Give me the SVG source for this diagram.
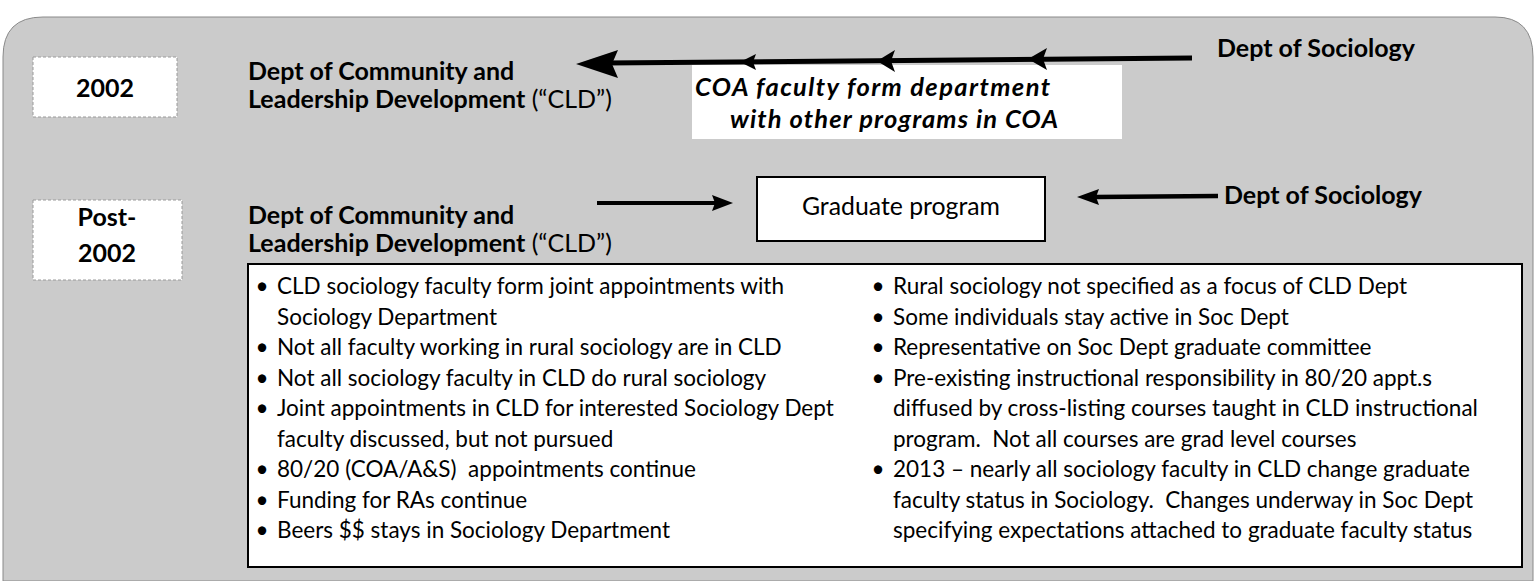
<svg xmlns="http://www.w3.org/2000/svg" width="1535" height="581" viewBox="0 0 1535 581">
<defs>
<style>
.hd{font-family:Lato,"Liberation Sans",sans-serif;font-weight:700;font-size:25px;fill:#000}
.rg{font-family:Lato,"Liberation Sans",sans-serif;font-weight:400;fill:#000}
.it{font-family:Lato,"Liberation Sans",sans-serif;font-weight:700;font-style:italic;font-size:25.5px;fill:#000}
.bl{font-family:Lato,"Liberation Sans",sans-serif;font-weight:400;font-size:22.5px;fill:#000;white-space:pre}
.wbox{fill:#fff;stroke:#9a9a9a;stroke-width:1;stroke-dasharray:3 2}
.kbox{fill:#fff;stroke:#000;stroke-width:2}
.ln{stroke:#000;fill:none;stroke-linecap:butt}
.ah{fill:#000}
</style>
</defs>
<rect x="0" y="0" width="1535" height="581" fill="#fff"/>
<path d="M3,581 L3,57 Q3,17 43,17 L1495,17 Q1533,17 1533,57 L1533,581 Z" fill="#cbcbcb" stroke="#8a8a8a" stroke-width="1"/>

<g id="label-2002">
<rect class="wbox" x="33" y="57" width="144" height="60"/>
<text class="hd" x="105" y="97" text-anchor="middle">2002</text>
</g>

<g id="cld-2002">
<text class="hd" x="248" y="80">Dept of Community and</text>
<text class="hd" x="248" y="108">Leadership Development<tspan class="rg"> (“CLD”)</tspan></text>
</g>

<g id="coa-note">
<rect x="692" y="65" width="430" height="74" fill="#fff"/>
<text class="it" x="695" y="96" textLength="355">COA faculty form department</text>
<text class="it" x="730" y="128" textLength="328">with other programs in COA</text>
</g>

<g id="soc-2002">
<text class="hd" x="1217" y="57">Dept of Sociology</text>
</g>

<g id="label-post">
<rect class="wbox" x="33" y="200" width="149" height="80"/>
<text class="hd" x="107" y="226" text-anchor="middle">Post-</text>
<text class="hd" x="107" y="262" text-anchor="middle">2002</text>
</g>

<g id="cld-post">
<text class="hd" x="248" y="224">Dept of Community and</text>
<text class="hd" x="248" y="252">Leadership Development<tspan class="rg"> (“CLD”)</tspan></text>
</g>

<g id="grad-program">
<rect class="kbox" x="757" y="177" width="288" height="64"/>
<text class="rg" x="901" y="215" text-anchor="middle" font-size="24.8">Graduate program</text>
</g>

<g id="soc-post">
<text class="hd" x="1224" y="204">Dept of Sociology</text>
</g>

<g id="connectors">
<line class="ln" x1="1192" y1="58" x2="605" y2="63" stroke-width="5"/>
<polygon class="ah" points="576,64 618,50 612,64 618,78"/>
<polygon class="ah" points="740,62 756,54 753,62 756,70"/>
<polygon class="ah" points="877,61 895,50 891,61 895,72"/>
<polygon class="ah" points="1028,59 1047,48 1043,59 1047,70"/>
<line class="ln" x1="597" y1="203" x2="716" y2="203" stroke-width="4"/>
<polygon class="ah" points="733,203 712,195 715,203 712,211"/>
<line class="ln" x1="1218" y1="196" x2="1095" y2="197" stroke-width="4.5"/>
<polygon class="ah" points="1077,197 1099,189 1096,197 1099,205"/>
</g>

<g id="bullets">
<rect class="kbox" x="248" y="264" width="1274" height="303"/>
<g class="bl">
<text x="262" y="294" text-anchor="middle">•</text><text x="277" y="294">CLD sociology faculty form joint appointments with</text>
<text x="277" y="324.5">Sociology Department</text>
<text x="262" y="355" text-anchor="middle">•</text><text x="277" y="355">Not all faculty working in rural sociology are in CLD</text>
<text x="262" y="385.5" text-anchor="middle">•</text><text x="277" y="385.5">Not all sociology faculty in CLD do rural sociology</text>
<text x="262" y="416" text-anchor="middle">•</text><text x="277" y="416">Joint appointments in CLD for interested Sociology Dept</text>
<text x="277" y="446.5">faculty discussed, but not pursued</text>
<text x="262" y="477" text-anchor="middle">•</text><text x="277" y="477" xml:space="preserve">80/20 (COA/A&amp;S)  appointments continue</text>
<text x="262" y="507.5" text-anchor="middle">•</text><text x="277" y="507.5">Funding for RAs continue</text>
<text x="262" y="538" text-anchor="middle">•</text><text x="277" y="538">Beers $$ stays in Sociology Department</text>
<text x="878" y="294" text-anchor="middle">•</text><text x="893" y="294">Rural sociology not specified as a focus of CLD Dept</text>
<text x="878" y="324.5" text-anchor="middle">•</text><text x="893" y="324.5">Some individuals stay active in Soc Dept</text>
<text x="878" y="355" text-anchor="middle">•</text><text x="893" y="355">Representative on Soc Dept graduate committee</text>
<text x="878" y="385.5" text-anchor="middle">•</text><text x="893" y="385.5">Pre-existing instructional responsibility in 80/20 appt.s</text>
<text x="893" y="416">diffused by cross-listing courses taught in CLD instructional</text>
<text x="893" y="446.5" xml:space="preserve">program.  Not all courses are grad level courses</text>
<text x="878" y="477" text-anchor="middle">•</text><text x="893" y="477">2013 – nearly all sociology faculty in CLD change graduate</text>
<text x="893" y="507.5" xml:space="preserve">faculty status in Sociology.  Changes underway in Soc Dept</text>
<text x="893" y="538">specifying expectations attached to graduate faculty status</text>
</g>
</g>
</svg>
